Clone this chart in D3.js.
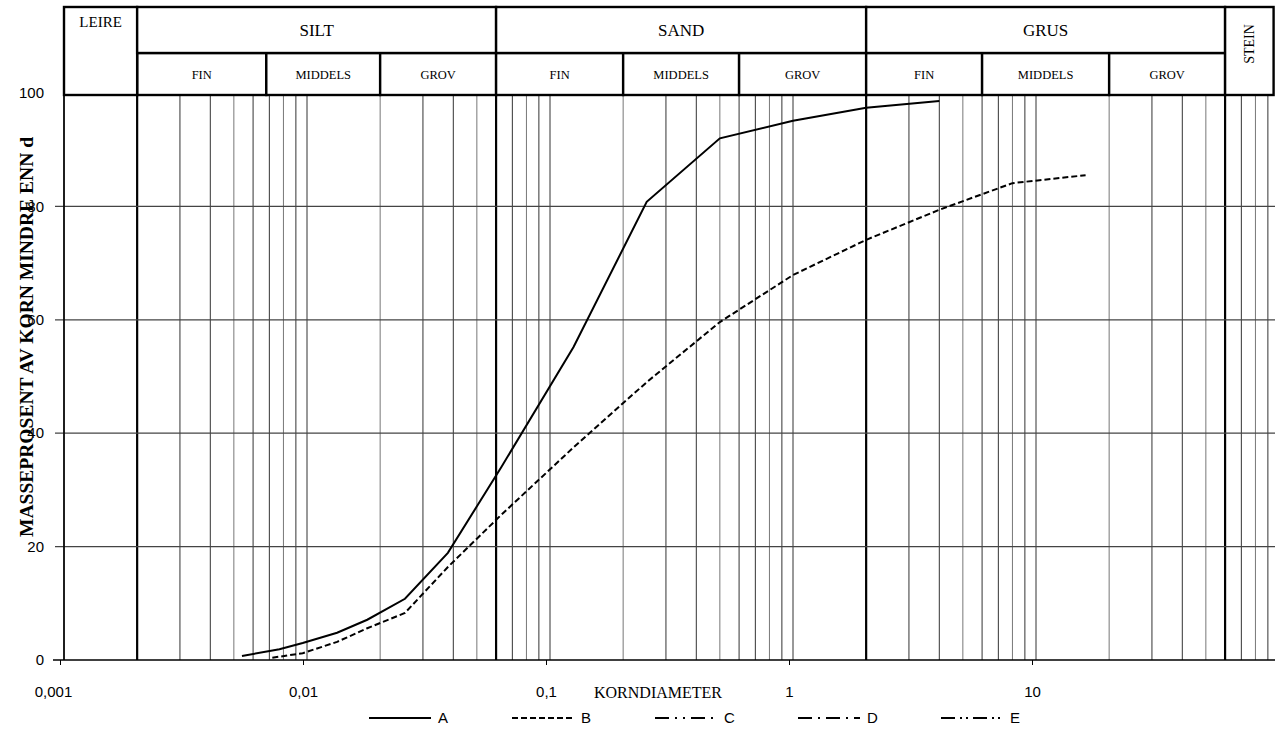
<!DOCTYPE html>
<html>
<head>
<meta charset="utf-8">
<script src="https://cdn.jsdelivr.net/npm/d3@7/dist/d3.min.js"></script>
<style>
  body { margin: 0; background: #fff; }
  svg { display: block; }
</style>
</head>
<body>
<svg id="chart" width="1275" height="742"></svg>
<script>
'use strict';

// grain diameter (mm) and mass percent finer than d, one pair per sample
const diamA = [0.0054, 0.0077, 0.0096, 0.0133, 0.0177, 0.0253, 0.038, 0.063, 0.125, 0.25, 0.5, 1, 2, 4];
const passA = [0.7, 1.9, 3.0, 4.8, 7.1, 10.8, 18.9, 34, 55.2, 80.8, 92, 95.1, 97.4, 98.6];
const diamB = [0.0072, 0.0096, 0.0133, 0.0177, 0.0253, 0.038, 0.063, 0.125, 0.25, 0.5, 1, 2, 4, 8, 16];
const passB = [0.4, 1.2, 3.2, 5.6, 8.3, 16.4, 25.6, 37.5, 49, 59.6, 67.9, 74.1, 79.4, 84.1, 85.5];
// samples C, D and E are in the legend but have no curve
const diamC = [], passC = [];
const diamD = [], passD = [];
const diamE = [], passE = [];
const seriesNames = ['A', 'B', 'C', 'D', 'E'];

const xTickValues = [0.001, 0.01, 0.1, 1, 10];
const xTickLabels = ['0,001', '0,01', '0,1', '1', '10'];
const yTickValues = [0, 20, 40, 60, 80, 100];
const yGridValues = [20, 40, 60, 80];

// soil classes in the header (limits in mm)
const mainNames = ['LEIRE', 'SILT', 'SAND', 'GRUS', 'STEIN'];
const mainBounds = [0.001, 0.002, 0.06, 2, 60, 95];
const subNames = ['FIN', 'MIDDELS', 'GROV', 'FIN', 'MIDDELS', 'GROV', 'FIN', 'MIDDELS', 'GROV'];
const subBounds = [0.002, 0.0068, 0.02, 0.06, 0.2, 0.6, 2, 6, 20, 60];
const classLimits = [0.002, 0.06, 2, 60];

const SERIF = '"Liberation Serif", "Times New Roman", serif';
const SANS = '"Liberation Sans", Arial, sans-serif';

const svg = d3.select('#chart');

const x = d3.scaleLog().domain([0.001, 100]).range([64, 1279]);
const y = d3.scaleLinear().domain([0, 100]).range([660, 93]);

const headTop = 7, headMid = 53, headBottom = 95;

/**
 * Vertical log grid: every 1..9 x 10^n line.
 */
const gridValues = [];
for (let e = -3; e <= 1; e++) {
    for (let k = 1; k <= 9; k++) {
        gridValues.push(+(k * Math.pow(10, e)).toPrecision(3));
    }
}

svg.append('g')
    .selectAll('line')
    .data(gridValues)
    .enter()
    .append('line')
    .attr('x1', d => x(d))
    .attr('x2', d => x(d))
    .attr('y1', headBottom)
    .attr('y2', y(0))
    .attr('stroke', (d, i) => i % 3 === 1 ? '#777' : '#333')
    .attr('stroke-width', 1);

svg.append('g')
    .selectAll('line')
    .data(classLimits)
    .enter()
    .append('line')
    .attr('x1', d => x(d))
    .attr('x2', d => x(d))
    .attr('y1', headBottom)
    .attr('y2', y(0))
    .attr('stroke', '#000')
    .attr('stroke-width', 2.2);

svg.append('g')
    .selectAll('line')
    .data(yGridValues)
    .enter()
    .append('line')
    .attr('x1', 55)
    .attr('x2', 1275)
    .attr('y1', d => y(d))
    .attr('y2', d => y(d))
    .attr('stroke', '#444')
    .attr('stroke-width', 1.2);

// y axis line and x baseline
svg.append('line')
    .attr('x1', x(0.001)).attr('x2', x(0.001))
    .attr('y1', headBottom).attr('y2', y(0))
    .attr('stroke', '#000').attr('stroke-width', 1.6);

const xAxis = d3.axisBottom(x)
    .tickValues(xTickValues)
    .tickFormat((d, i) => xTickLabels[i])
    .tickSize(5)
    .tickPadding(21);

const gx = svg.append('g')
    .attr('transform', 'translate(-4,' + y(0) + ')')
    .call(xAxis);
gx.select('.domain').remove();
gx.selectAll('.tick line').attr('stroke', '#000');
gx.selectAll('.tick text')
    .attr('font-family', SANS)
    .attr('font-size', 15)
    .attr('fill', '#000');
gx.select('.tick text').attr('dx', -7);

svg.append('line')
    .attr('x1', 53).attr('x2', 1275)
    .attr('y1', y(0)).attr('y2', y(0))
    .attr('stroke', '#000').attr('stroke-width', 1.4);

svg.append('g')
    .selectAll('text')
    .data(yTickValues)
    .enter()
    .append('text')
    .attr('x', 44)
    .attr('y', d => y(d))
    .attr('dy', '0.35em')
    .attr('text-anchor', 'end')
    .attr('font-family', SANS)
    .attr('font-size', 15)
    .text(d => d);

// axis titles
svg.append('text')
    .attr('transform', 'translate(26,337) rotate(-90)')
    .attr('text-anchor', 'middle')
    .attr('dy', '0.35em')
    .attr('font-family', SERIF)
    .attr('font-weight', 'bold')
    .attr('font-size', 19)
    .attr('textLength', 400)
    .attr('lengthAdjust', 'spacingAndGlyphs')
    .text('MASSEPROSENT AV KORN MINDRE ENN d');

svg.append('text')
    .attr('x', 594)
    .attr('y', 692)
    .attr('dy', '0.35em')
    .attr('font-family', SERIF)
    .attr('font-size', 16)
    .text('KORNDIAMETER');

// header boxes
const mainData = mainNames.map((n, i) => ({name: n, x0: mainBounds[i], x1: mainBounds[i + 1]}));
const subData = subNames.map((n, i) => ({name: n, x0: subBounds[i], x1: subBounds[i + 1]}));
const fullHeight = d => d.name === 'LEIRE' || d.name === 'STEIN';

const head = svg.append('g');

head.selectAll('rect.sub')
    .data(subData)
    .enter()
    .append('rect')
    .classed('sub', true)
    .attr('x', d => x(d.x0))
    .attr('y', headMid)
    .attr('width', d => x(d.x1) - x(d.x0))
    .attr('height', headBottom - headMid)
    .attr('fill', '#fff')
    .attr('stroke', '#000')
    .attr('stroke-width', 2.4);

head.selectAll('rect.main')
    .data(mainData)
    .enter()
    .append('rect')
    .classed('main', true)
    .attr('x', d => x(d.x0))
    .attr('y', headTop)
    .attr('width', d => x(d.x1) - x(d.x0))
    .attr('height', d => (fullHeight(d) ? headBottom : headMid) - headTop)
    .attr('fill', '#fff')
    .attr('stroke', '#000')
    .attr('stroke-width', 2.4);

head.selectAll('text.sub')
    .data(subData)
    .enter()
    .append('text')
    .classed('sub', true)
    .attr('x', d => (x(d.x0) + x(d.x1)) / 2)
    .attr('y', 75)
    .attr('dy', '0.35em')
    .attr('text-anchor', 'middle')
    .attr('font-family', SERIF)
    .attr('font-size', 12.5)
    .text(d => d.name);

head.selectAll('text.main')
    .data(mainData)
    .enter()
    .append('text')
    .classed('main', true)
    .attr('transform', d => {
        const cx = (x(d.x0) + x(d.x1)) / 2;
        if (d.name === 'STEIN') return 'translate(' + cx + ',44) rotate(-90)';
        if (d.name === 'LEIRE') return 'translate(' + cx + ',22)';
        return 'translate(' + cx + ',30)';
    })
    .attr('dy', '0.35em')
    .attr('text-anchor', 'middle')
    .attr('font-family', SERIF)
    .attr('font-size', d => d.name === 'LEIRE' ? 15 : d.name === 'STEIN' ? 14 : 17)
    .text(d => d.name);

// curves
const series = [
    {name: 'A', diam: diamA, pass: passA, dash: null},
    {name: 'B', diam: diamB, pass: passB, dash: '6,3'},
    {name: 'C', diam: diamC, pass: passC, dash: '14,6,2,6,2,6'},
    {name: 'D', diam: diamD, pass: passD, dash: '14,6,2,6'},
    {name: 'E', diam: diamE, pass: passE, dash: '14,5,2,4,2,5'}
];

const line = d3.line()
    .x(d => x(d[0]))
    .y(d => y(d[1]));

svg.append('g')
    .selectAll('path')
    .data(series.filter(s => s.diam.length))
    .enter()
    .append('path')
    .attr('d', s => line(d3.zip(s.diam, s.pass)))
    .attr('fill', 'none')
    .attr('stroke', '#000')
    .attr('stroke-width', 2)
    .attr('stroke-dasharray', s => s.dash);

// legend
const legend = svg.append('g')
    .selectAll('g')
    .data(seriesNames)
    .enter()
    .append('g')
    .attr('transform', (d, i) => 'translate(' + (369 + i * 143) + ',718)');

legend.append('line')
    .attr('x1', 0).attr('x2', 62)
    .attr('stroke', '#000')
    .attr('stroke-width', 2)
    .attr('stroke-dasharray', (d, i) => series[i].dash);

legend.append('text')
    .attr('x', 69)
    .attr('dy', '0.35em')
    .attr('font-family', SANS)
    .attr('font-size', 15)
    .text(d => d);
</script>
</body>
</html>
